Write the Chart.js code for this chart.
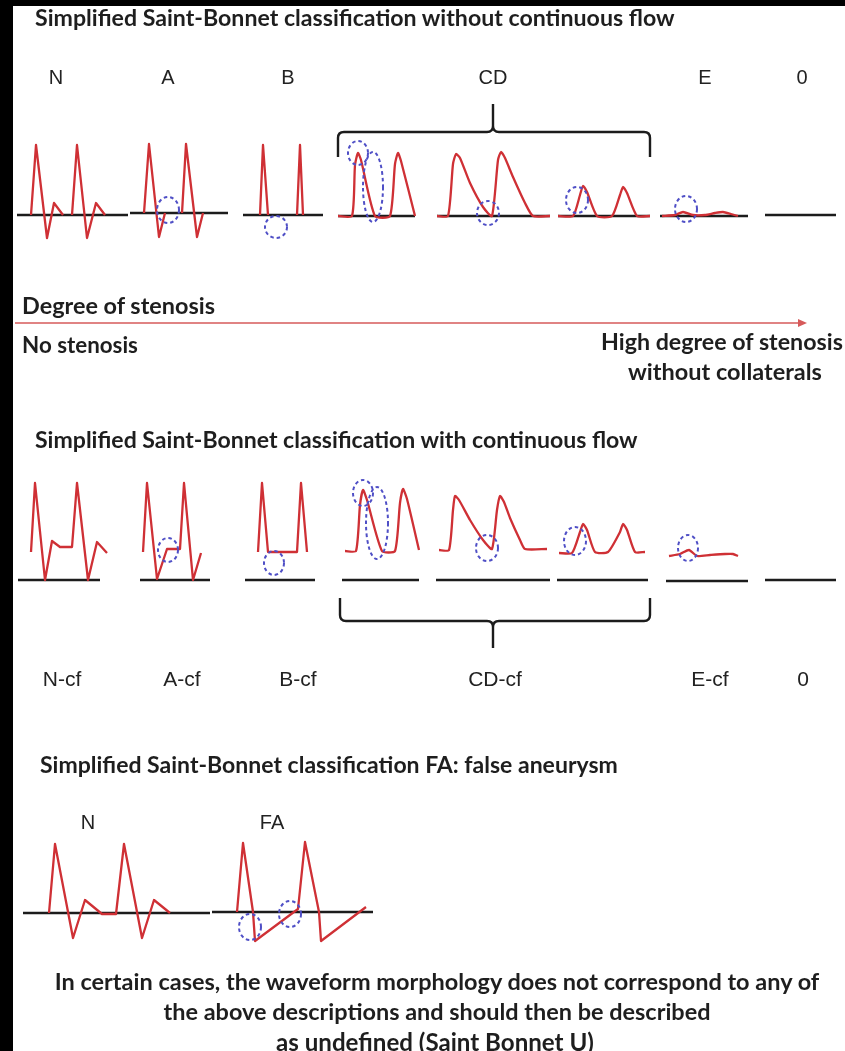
<!DOCTYPE html>
<html>
<head>
<meta charset="utf-8">
<script src="https://cdn.jsdelivr.net/npm/chart.js@4.4.0/dist/chart.umd.min.js"></script>
<style>
html, body { margin: 0; padding: 0; background: #fff; }
body { width: 845px; height: 1051px; position: relative; overflow: hidden; }
.frame-top { position: absolute; left: 0; top: 0; width: 845px; height: 6px; background: #000; }
.frame-left { position: absolute; left: 0; top: 0; width: 13px; height: 1051px; background: #000; }
canvas { position: absolute; }
.t { position: absolute; white-space: nowrap; color: #1e1e1e; line-height: 1; }
.head { font-family: Lato, "Open Sans", sans-serif; font-weight: 700; }
.lab { font-family: "Liberation Sans", Arial, sans-serif; color: #222; }
.labn { font-family: "Liberation Sans Narrow", "Liberation Sans", sans-serif; color: #222; }
</style>
</head>
<body>
<div class="frame-top"></div>
<div class="frame-left"></div>
<canvas id="deco" width="845" height="1051" style="left:0;top:0"></canvas>
<script>
// waveforms: [time, velocity], velocity 0 = baseline, null = hidden under baseline
// row 1 - without continuous flow
var wave_N = [[14,0],[19,70],[30,-23],[37,12],[46,0],[50,null],[55,0],[60,70],[70,-23],[79,12],[88,0]];
var wave_A = [[14,0],[19,69],[29,-24],[35,0],[44,null],[52,0],[56,69],[67,-24],[73,0]];
var wave_B = [[17,0],[20,70],[25,0],[40,null],[54,0],[57,70],[60,0]];
var wave_CD1 = [[0,0],[14,0],[17,51],[20,63],[23,56],[37,0],[52,0],[57,52],[60,63],[63,55],[77,0]];
var wave_CD2 = [[0,0],[11,0],[16,52],[19,62],[23,58],[33,33],[46,9],[55,0],[61,56],[64,64],[68,58],[76,39],[88,13],[96,0],[113,0]];
var wave_CD3 = [[0,0],[15,0],[22,21],[25,30],[29,24],[39,0],[54,0],[62,21],[65,29],[69,23],[79,0],[92,0]];
var wave_E = [[2,0],[15,1],[23,4],[33,1],[45,1],[55,3],[63,4],[71,2],[78,0]];

// row 2 - with continuous flow
var wave_Ncf = [[13,28],[17,97],[27,0],[34,39],[42,33],[54,33],[59,97],[70,0],[79,38],[89,27]];
var wave_Acf = [[3,28],[7,97],[17,1],[27,31],[40,31],[44,97],[53,0],[61,27]];
var wave_Bcf = [[13,28],[17,97],[23,28],[52,28],[56,97],[62,28]];
var wave_CD1cf = [[3,29],[14,29],[18,75],[21,90],[25,80],[40,29],[53,29],[58,77],[61,91],[65,81],[77,30]];
var wave_CD2cf = [[3,30],[13,30],[17,70],[19,84],[23,80],[34,60],[47,40],[56,31],[61,70],[64,84],[68,78],[74,62],[84,40],[89,31],[111,31]];
var wave_CD3cf = [[2,27],[15,27],[23,48],[26,56],[30,50],[38,28],[51,28],[63,48],[66,56],[70,50],[78,28],[88,28]];
var wave_Ecf = [[3,25],[14,27],[23,31],[31,25],[44,26],[59,27],[67,27],[72,25]];

// row 3 - false aneurysm
var wave_N3 = [[26,0],[32,69],[50,-25],[62,13],[79,-1],[93,-1],[101,69],[119,-25],[131,13],[147,0]];
var wave_FA = [[25,0],[31,69],[41,0],[43,-29],[86,3],[93,70],[107,0],[109,-29],[154,5]];

// dashed marks: [time, velocity, half width, half height]
var ring_A = [[38,3,11,13]];
var ring_B = [[33,-12,11,11]];
var ring_CD1 = [[20,63,10,12],[35,29,10,35]];
var ring_CD2 = [[51,3,11,12]];
var ring_CD3 = [[19,16,11,13]];
var ring_E = [[26,7,11,13]];
var ring_Acf = [[28,30,10,12]];
var ring_Bcf = [[29,17,10,12]];
var ring_CD1cf = [[21,87,10,13],[35,57,11,36]];
var ring_CD2cf = [[51,32,11,13]];
var ring_CD3cf = [[18,39,11,14]];
var ring_Ecf = [[22,33,10,13]];
var ring_FA = [[38,-15,11,13],[78,-2,11,13]];

var row1_labels = ['N', 'A', 'B', 'CD', 'E', '0'];
var row2_labels = ['N-cf', 'A-cf', 'B-cf', 'CD-cf', 'E-cf', '0'];
var row3_labels = ['N', 'FA'];

var RED = '#cf3035';
var BLUE = '#4f4fc6';
var INK = '#1c1c1c';

// where each panel sits on the page
var panels = [
    {wave: wave_N, left: 17, len: 111, base: 215},
    {wave: wave_A, rings: ring_A, left: 130, len: 98, base: 213},
    {wave: wave_B, rings: ring_B, left: 243, len: 80, base: 215},
    {wave: wave_CD1, rings: ring_CD1, left: 338, len: 77, base: 216, smooth: 0.2},
    {wave: wave_CD2, rings: ring_CD2, left: 437, len: 113, base: 216, smooth: 0.2},
    {wave: wave_CD3, rings: ring_CD3, left: 558, len: 92, base: 216, smooth: 0.2},
    {wave: wave_E, rings: ring_E, left: 660, len: 88, base: 216, smooth: 0.2},
    {left: 765, len: 71, base: 215},

    {wave: wave_Ncf, left: 18, len: 82, base: 580},
    {wave: wave_Acf, rings: ring_Acf, left: 140, len: 70, base: 580},
    {wave: wave_Bcf, rings: ring_Bcf, left: 245, len: 70, base: 580},
    {wave: wave_CD1cf, rings: ring_CD1cf, left: 342, len: 77, base: 580, smooth: 0.2},
    {wave: wave_CD2cf, rings: ring_CD2cf, left: 436, len: 114, base: 580, smooth: 0.2},
    {wave: wave_CD3cf, rings: ring_CD3cf, left: 557, len: 91, base: 580, smooth: 0.2},
    {wave: wave_Ecf, rings: ring_Ecf, left: 666, len: 82, base: 581, smooth: 0.2},
    {left: 765, len: 71, base: 580},

    {wave: wave_N3, left: 23, len: 187, base: 913},
    {wave: wave_FA, rings: ring_FA, left: 212, len: 161, base: 912}
];

var PADX = 15, ABOVE = 110, BELOW = 45;

function make_panel(p) {
    var cv = document.createElement('canvas');
    cv.width = p.len + 2 * PADX;
    cv.height = ABOVE + BELOW;
    cv.style.left = (p.left - PADX) + 'px';
    cv.style.top = (p.base - ABOVE) + 'px';
    document.body.appendChild(cv);

    var sets = [{
        data: [{x: 0, y: 0}, {x: p.len, y: 0}],
        borderColor: INK,
        borderWidth: 2.6,
        order: 2
    }];
    if (p.wave) {
        sets.push({
            data: p.wave.map(function (d) { return {x: d[0], y: d[1]}; }),
            borderColor: RED,
            borderWidth: 2.3,
            tension: p.smooth || 0,
            borderJoinStyle: 'round',
            spanGaps: false,
            order: 1
        });
    }
    var rings = p.rings || [];

    new Chart(cv, {
        type: 'line',
        data: {datasets: sets},
        options: {
            responsive: false,
            animation: false,
            layout: {padding: 0},
            elements: {point: {radius: 0}},
            scales: {
                x: {type: 'linear', display: false, min: -PADX, max: p.len + PADX},
                y: {display: false, min: -BELOW, max: ABOVE}
            },
            plugins: {
                legend: {display: false},
                tooltip: {enabled: false}
            }
        },
        plugins: [{
            id: 'rings',
            afterDatasetsDraw: function (chart) {
                var xs = chart.scales.x, ys = chart.scales.y, ctx = chart.ctx;
                ctx.save();
                ctx.strokeStyle = BLUE;
                ctx.lineWidth = 2;
                ctx.setLineDash([3.5, 3]);
                rings.forEach(function (r) {
                    var cx = xs.getPixelForValue(r[0]), cy = ys.getPixelForValue(r[1]);
                    var rx = Math.abs(xs.getPixelForValue(r[0] + r[2]) - cx);
                    var ry = Math.abs(ys.getPixelForValue(r[1] + r[3]) - cy);
                    ctx.beginPath();
                    ctx.ellipse(cx, cy, rx, ry, 0, 0, 2 * Math.PI);
                    ctx.stroke();
                });
                ctx.restore();
            }
        }]
    });
}

panels.forEach(make_panel);

// braces and the stenosis arrow
var ctx = document.getElementById('deco').getContext('2d');
function brace(x0, x1, xm, yEnd, yBar, yTip) {
    var s = yTip < yBar ? -1 : 1, r = 6;
    ctx.beginPath();
    ctx.moveTo(x0, yEnd);
    ctx.lineTo(x0, yBar - s * r);
    ctx.quadraticCurveTo(x0, yBar, x0 + r, yBar);
    ctx.lineTo(xm - r, yBar);
    ctx.quadraticCurveTo(xm, yBar, xm, yBar + s * r);
    ctx.lineTo(xm, yTip);
    ctx.moveTo(xm, yBar + s * r);
    ctx.quadraticCurveTo(xm, yBar, xm + r, yBar);
    ctx.lineTo(x1 - r, yBar);
    ctx.quadraticCurveTo(x1, yBar, x1, yBar - s * r);
    ctx.lineTo(x1, yEnd);
    ctx.stroke();
}
ctx.strokeStyle = INK;
ctx.lineWidth = 2.4;
ctx.lineJoin = 'round';
brace(338, 650, 493, 157, 132, 104);
brace(340, 650, 493, 598, 621, 648);

ctx.strokeStyle = '#d65a5a';
ctx.fillStyle = '#d65a5a';
ctx.lineWidth = 1.6;
ctx.beginPath();
ctx.moveTo(15, 323);
ctx.lineTo(800, 323);
ctx.stroke();
ctx.beginPath();
ctx.moveTo(807, 323);
ctx.lineTo(798, 319);
ctx.lineTo(798, 327);
ctx.closePath();
ctx.fill();

// text
var texts = [
    {text: 'Simplified Saint-Bonnet classification without continuous flow', cls: 'head', x: 35, y: 18, w: 640},
    {text: 'Degree of stenosis', cls: 'head', x: 22, y: 306, w: 193},
    {text: 'No stenosis', cls: 'head', x: 22, y: 345, w: 116},
    {text: 'High degree of stenosis', cls: 'head', x: 601, y: 342, w: 242},
    {text: 'without collaterals', cls: 'head', x: 628, y: 372, w: 194},
    {text: 'Simplified Saint-Bonnet classification with continuous flow', cls: 'head', x: 35, y: 440, w: 603},
    {text: 'Simplified Saint-Bonnet classification FA: false aneurysm', cls: 'head', x: 40, y: 765, w: 578},
    {text: 'In certain cases, the waveform morphology does not correspond to any of', cls: 'head', x: 437, y: 982, w: 765, c: 1},
    {text: 'the above descriptions and should then be described', cls: 'head', x: 437, y: 1012, w: 547, c: 1},
    {text: 'as undefined (Saint Bonnet U)', cls: 'head', x: 435, y: 1042, w: 318, c: 1}
];
var row1_x = [56, 168, 288, 493, 705, 802];
var row2_x = [62, 182, 298, 495, 710, 803];
var row3_x = [88, 272];
row1_labels.forEach(function (s, i) { texts.push({text: s, cls: 'lab', x: row1_x[i], y: 77, size: 20, c: 1}); });
row2_labels.forEach(function (s, i) { texts.push({text: s, cls: 'labn', x: row2_x[i], y: 678, size: 21, c: 1}); });
row3_labels.forEach(function (s, i) { texts.push({text: s, cls: 'lab', x: row3_x[i], y: 822, size: 20, c: 1}); });

texts.forEach(function (t) {
    var el = document.createElement('div');
    el.className = 't ' + t.cls;
    el.textContent = t.text;
    var size = t.size || 20;
    el.style.fontSize = size + 'px';
    document.body.appendChild(el);
    if (t.w) {
        size = size * t.w / el.getBoundingClientRect().width;
        el.style.fontSize = size + 'px';
    }
    var r = el.getBoundingClientRect();
    el.style.left = (t.c ? t.x - r.width / 2 : t.x) + 'px';
    el.style.top = (t.y - r.height / 2) + 'px';
});
</script>
</body>
</html>
